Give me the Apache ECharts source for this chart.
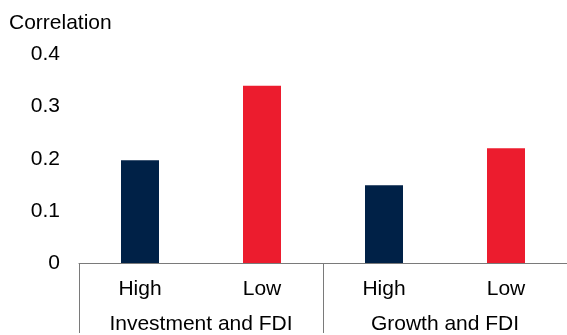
<!DOCTYPE html>
<html>
<head>
<meta charset="utf-8">
<script src="https://cdn.jsdelivr.net/npm/echarts@6/dist/echarts.min.js"></script>
<style>
html,body{margin:0;padding:0;background:#fff;}
#chart{width:567px;height:335px;}
</style>
</head>
<body>
<div id="chart"></div>
<script>
const categories = ["High", "Low", "High", "Low"];
const groups = ["Investment and FDI", "Growth and FDI"];
const values = [0.197, 0.34, 0.149, 0.22];
const yTicks = [0, 0.1, 0.2, 0.3, 0.4];
const colorByCategory = { "High": "#002147", "Low": "#EC1C2E" };

const FONT = "'Liberation Sans', Arial, Helvetica, sans-serif";
const chart = echarts.init(document.getElementById('chart'), null, { renderer: 'canvas' });
chart.setOption({
  animation: false,
  backgroundColor: '#ffffff',
  title: {
    text: 'Correlation',
    left: 9, top: 13, padding: 0,
    textStyle: { fontFamily: FONT, fontSize: 21, fontWeight: 'normal', color: '#000' }
  },
  grid: { left: 79, right: 0, top: 54.5, bottom: 69.3, containLabel: false },
  xAxis: [
    {
      type: 'category', position: 'bottom', data: categories,
      axisLine: { show: true, lineStyle: { color: '#7a7a7a', width: 1 } },
      axisTick: { show: false },
      axisLabel: { margin: 16, fontFamily: FONT, fontSize: 21, color: '#000' }
    },
    {
      type: 'category', position: 'bottom', offset: 0, data: groups,
      axisLine: { show: false },
      axisTick: { show: true, length: 70, lineStyle: { color: '#7a7a7a', width: 1 } },
      axisLabel: { margin: 51, fontFamily: FONT, fontSize: 21, color: '#000' }
    }
  ],
  yAxis: {
    type: 'value', min: yTicks[0], max: yTicks[yTicks.length - 1], interval: 0.1,
    axisLine: { show: false }, axisTick: { show: false }, splitLine: { show: false },
    axisLabel: { margin: 19, fontFamily: FONT, fontSize: 21, color: '#000' }
  },
  series: [{
    type: 'bar', xAxisIndex: 0, barWidth: 38,
    data: values.map((v, i) => ({ value: v, itemStyle: { color: colorByCategory[categories[i]] } }))
  }]
});
</script>
</body>
</html>
